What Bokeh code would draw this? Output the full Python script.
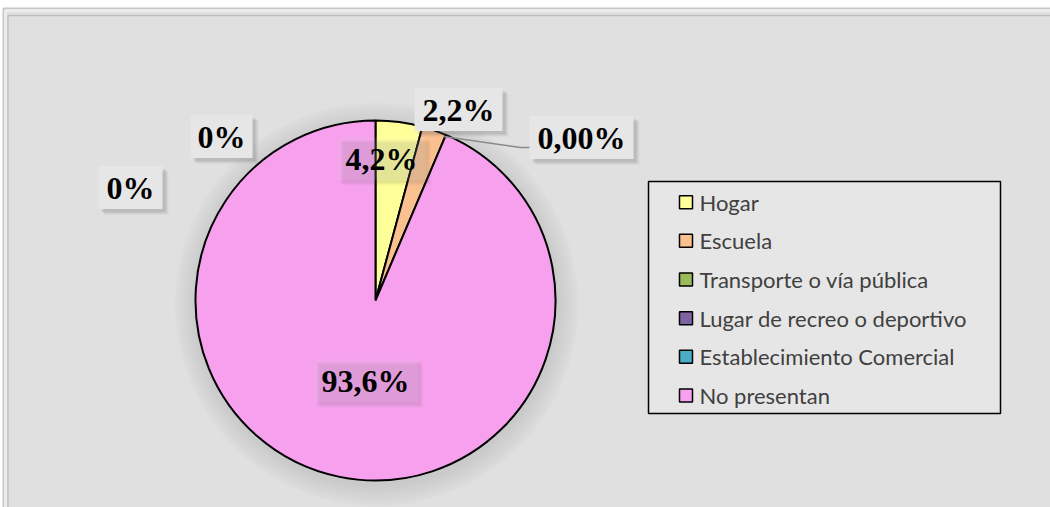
import numpy as np
from bokeh.plotting import figure
from bokeh.models import Range1d, ColumnDataSource
from bokeh.core.properties import value
from bokeh.embed import file_html
from bokeh.resources import INLINE

# ---- data ----
categories = ["Hogar", "Escuela", "Transporte o vía pública",
              "Lugar de recreo o deportivo", "Establecimiento Comercial", "No presentan"]
percentages = [4.2, 2.2, 0.0, 0.0, 0.0, 93.6]
label_texts = ["4,2%", "2,2%", "0,00%", "0%", "0%", "93,6%"]
colors = ["#FFFF99", "#FAC090", "#9BBB59", "#8064A2", "#4BACC6", "#F7A0EE"]

# ---- layout (screen pixels) ----
W, H = 1050, 507
def dx(sx): return sx
def dy(sy): return H - sy

CX, CY, R = dx(375), dy(300), 180

label_centers = [(381, 158), (458, 109), (581, 137), (221, 136), (130, 187), (365, 380)]
label_box_w = [88, 88, 104, 62, 64, 104]
label_box_h = 43
label_box_alpha = [0.10, 1.0, 1.0, 1.0, 1.0, 0.10]
shadow_scale = [0.5, 1.0, 1.0, 1.0, 1.0, 0.5]

p = figure(width=W, height=H, output_backend="svg", toolbar_location=None,
           x_range=Range1d(0, W), y_range=Range1d(0, H),
           x_axis_type=None, y_axis_type=None, min_border=0)
p.grid.visible = False
p.background_fill_color = "white"
p.border_fill_color = "white"
p.outline_line_color = None

# chart area frame
p.quad(left=[dx(3)], right=[dx(1060)], top=[dy(8)], bottom=[dy(520)],
       fill_color="#e0e0e0", line_color="#c6c6c6", line_width=2)
p.quad(left=[dx(5)], right=[dx(1060)], top=[dy(10)], bottom=[dy(520)],
       fill_alpha=0, line_color="#ececec", line_width=3)
p.quad(left=[dx(7.5)], right=[dx(1060)], top=[dy(15)], bottom=[dy(520)],
       fill_alpha=0, line_color="#c0c0c0", line_width=1.5)

# soft shadow around the pie
for k in range(10):
    p.circle(x=[CX + 1], y=[CY - 4], radius=R + 2 + 2.2 * k,
             fill_color="#808080", fill_alpha=0.028, line_alpha=0)

# pie (zero-value slices have no visible area)
vals = np.array(percentages, dtype=float)
frac = vals / vals.sum()
cum = np.concatenate([[0.0], np.cumsum(frac)])
starts = np.pi / 2 - 2 * np.pi * cum[:-1]
ends = np.pi / 2 - 2 * np.pi * cum[1:]
keep = vals > 0
src = ColumnDataSource(dict(start=starts[keep], end=ends[keep],
                            color=[c for c, k in zip(colors, keep) if k]))
p.wedge(x=CX, y=CY, radius=R, start_angle="start", end_angle="end",
        direction="clock", fill_color="color", line_color="black",
        line_width=2, source=src)

# leader line for 0,00%
p.line(x=[dx(443), dx(520), dx(530)], y=[dy(136), dy(147), dy(147)],
       line_color="#8a8a8a", line_width=1.5)

# label boxes with shadows
lx = [dx(c[0]) for c in label_centers]
ly = [dy(c[1]) for c in label_centers]
for off, a in [(6, 0.05), (5, 0.07), (4, 0.09), (3, 0.11)]:
    p.rect(x=[v + off for v in lx], y=[v - off for v in ly], width=label_box_w,
           height=label_box_h, fill_color="#606060",
           fill_alpha=[a * s for s in shadow_scale], line_alpha=0)
p.rect(x=lx, y=ly, width=label_box_w, height=label_box_h,
       fill_color="#e6e6e6", fill_alpha=label_box_alpha, line_alpha=0)
p.text(x=lx, y=ly, text=label_texts, text_font=value("Liberation Serif"),
       text_font_style="bold", text_font_size="32px", text_color="black",
       text_align="center", text_baseline="middle")

# legend (manual, Excel-like)
p.quad(left=[dx(648)], right=[dx(1000)], top=[dy(181)], bottom=[dy(413)],
       fill_color="#e6e6e6", line_color="black", line_width=1.5)
row_y = [dy(201.7 + 38.65 * i) for i in range(len(categories))]
p.rect(x=[dx(685.5)] * len(categories), y=row_y, width=13, height=13,
       fill_color=colors, line_color="black", line_width=1.5)
p.text(x=[dx(699)] * len(categories), y=row_y, text=categories,
       text_font=value("Lato"), text_font_size="22px", text_color="#404040",
       text_align="left", text_baseline="middle")

open("out.html", "w").write(file_html(p, INLINE))
